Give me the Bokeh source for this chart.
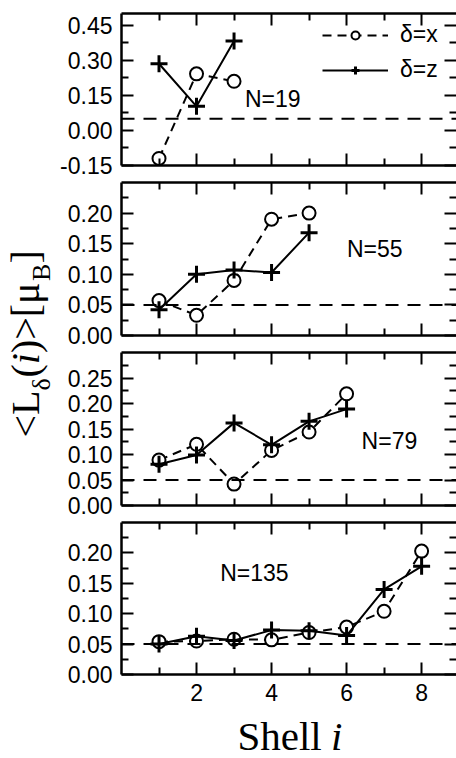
import math
from bokeh.plotting import figure
from bokeh.layouts import row, column
from bokeh.models import (Range1d, FixedTicker, LinearAxis, NumeralTickFormatter,
                          Span, Label, Legend, LegendItem, CustomLabelingPolicy)
from bokeh.embed import file_html
from bokeh.resources import INLINE

# ---------------- data ----------------
shells_19 = [1, 2, 3]
lx_19 = [-0.120, 0.242, 0.210]
lz_19 = [0.285, 0.103, 0.382]

shells_55 = [1, 2, 3, 4, 5]
lx_55 = [0.057, 0.033, 0.090, 0.190, 0.200]
lz_55 = [0.042, 0.100, 0.107, 0.103, 0.168]

shells_79 = [1, 2, 3, 4, 5, 6]
lx_79 = [0.089, 0.120, 0.042, 0.108, 0.144, 0.219]
lz_79 = [0.081, 0.099, 0.162, 0.119, 0.165, 0.189]

shells_135 = [1, 2, 3, 4, 5, 6, 7, 8]
lx_135 = [0.054, 0.055, 0.058, 0.057, 0.069, 0.078, 0.104, 0.203]
lz_135 = [0.050, 0.063, 0.056, 0.073, 0.072, 0.064, 0.140, 0.178]

cluster_labels = ["N=19", "N=55", "N=79", "N=135"]
ref_level = 0.05
x_tick_labels = [2, 4, 6, 8]
x_minor = [1, 3, 5, 7, 9]

# ---------------- style / layout ----------------
SANS = "Liberation Sans"
SERIF = "Liberation Serif"
TICK_FS = "23px"
LEFT_W = 57
PANEL_W = 456 - LEFT_W
FRAME_LEFT = 118                      # page x of the frames' left edge
BORDER_LEFT = FRAME_LEFT - LEFT_W
FRAME_W = 456 - FRAME_LEFT
X_END = 8.93
PX_PER_X = FRAME_W / X_END


def px_x(px):
    """page pixel x -> data x (all frames share the x scale)"""
    return (px - FRAME_LEFT) / PX_PER_X


def style_axis(ax, show_labels):
    ax.major_tick_in = 12
    ax.major_tick_out = 0
    ax.minor_tick_in = 7
    ax.minor_tick_out = 0
    ax.major_tick_line_width = 2
    ax.minor_tick_line_width = 2
    ax.major_tick_line_color = "black"
    ax.minor_tick_line_color = "black"
    ax.axis_line_width = 2.5
    ax.axis_line_color = "black"
    if show_labels:
        ax.major_label_text_font = SANS
        ax.major_label_text_font_size = TICK_FS
        ax.major_label_text_color = "black"
        ax.major_label_standoff = 9
    else:
        ax.major_label_text_font_size = "0px"
        ax.major_label_standoff = 0
        ax.major_label_policy = CustomLabelingPolicy(code="return [];")


def make_panel(height, top, bottom, y0, y1, ymaj, ymin, shells, lx, lz, label,
               label_xy, bottom_labels=False, legend=False):
    p = figure(width=PANEL_W, height=height, x_range=Range1d(0, X_END),
               y_range=Range1d(y0, y1), output_backend="svg", toolbar_location=None,
               x_axis_location=None, y_axis_location=None,
               min_border_left=BORDER_LEFT, min_border_right=0,
               min_border_top=top, min_border_bottom=bottom)
    p.grid.visible = False
    p.outline_line_color = None
    p.background_fill_color = "white"
    p.border_fill_color = "white"

    xt = FixedTicker(ticks=x_tick_labels, minor_ticks=x_minor)
    yt = FixedTicker(ticks=ymaj, minor_ticks=ymin)

    left = LinearAxis(ticker=yt, formatter=NumeralTickFormatter(format="0.00"))
    style_axis(left, True)
    p.add_layout(left, "left")
    right = LinearAxis(ticker=yt)
    style_axis(right, False)
    right.axis_line_color = None
    p.add_layout(right, "right")
    below = LinearAxis(ticker=xt)
    style_axis(below, bottom_labels)
    p.add_layout(below, "below")
    above = LinearAxis(ticker=xt)
    style_axis(above, False)
    p.add_layout(above, "above")

    p.add_layout(Span(location=ref_level, dimension="width", line_color="black",
                      line_width=2, line_dash="13 9"))

    rx_line = p.line(shells, lx, line_color="black", line_width=2, line_dash="9 6")
    rx_pts = p.scatter(shells, lx, marker="circle", size=13, line_color="black",
                       line_width=2, fill_color="white")
    rz_line = p.line(shells, lz, line_color="black", line_width=2)
    rz_pts = p.scatter(shells, lz, marker="cross", size=17, line_color="black",
                       line_width=3)

    p.add_layout(Label(x=label_xy[0], y=label_xy[1], text=label, text_font=SANS,
                       text_font_size=TICK_FS, text_align="left",
                       text_baseline="middle", text_color="black"))

    if legend:
        lg = Legend(items=[LegendItem(label="δ=x", renderers=[rx_line, rx_pts]),
                           LegendItem(label="δ=z", renderers=[rz_line, rz_pts])],
                    location=(201, 82), orientation="vertical")
        lg.glyph_width = 66
        lg.glyph_height = 20
        lg.label_height = 20
        lg.spacing = 8
        lg.padding = 0
        lg.margin = 0
        lg.label_standoff = 12
        lg.label_text_font = SANS
        lg.label_text_font_size = TICK_FS
        lg.label_text_color = "black"
        lg.label_text_baseline = "middle"
        lg.border_line_color = None
        lg.background_fill_alpha = 0
        p.add_layout(lg)
    return p


# panel canvases (page y): p1 0-179, p2 179-349, p3 349-519, p4 519-710, title 710-758
p1 = make_panel(179, 13, 14, -0.15, 0.50, [-0.15, 0.0, 0.15, 0.30, 0.45],
                [-0.075, 0.075, 0.225, 0.375], shells_19, lx_19, lz_19,
                cluster_labels[0], (3.29, 0.136), legend=True)
p2 = make_panel(170, 3, 14, 0.0, 0.25, [0.0, 0.05, 0.10, 0.15, 0.20],
                [0.025, 0.075, 0.125, 0.175, 0.225], shells_55, lx_55, lz_55,
                cluster_labels[1], (6.01, 0.142))
p3 = make_panel(170, 3, 14, 0.0, 0.30, [0.0, 0.05, 0.10, 0.15, 0.20, 0.25],
                [0.025, 0.075, 0.125, 0.175, 0.225, 0.275], shells_79, lx_79, lz_79,
                cluster_labels[2], (6.40, 0.126))
p4 = make_panel(191, 3, 36, 0.0, 0.25, [0.0, 0.05, 0.10, 0.15, 0.20],
                [0.025, 0.075, 0.125, 0.175, 0.225], shells_135, lx_135, lz_135,
                cluster_labels[3], (2.63, 0.167), bottom_labels=True)


def blank(width, height, xr, yr, **kw):
    f = figure(width=width, height=height, x_range=xr, y_range=yr,
               output_backend="svg", toolbar_location=None,
               x_axis_location=None, y_axis_location=None, min_border=0, **kw)
    f.grid.visible = False
    f.outline_line_color = None
    f.background_fill_color = "white"
    f.border_fill_color = "white"
    return f


# x-axis title "Shell i" (frame is aligned with the panels' frames in the column)
ptitle = blank(PANEL_W, 48, Range1d(0, X_END), Range1d(758, 710),
               min_border_left=BORDER_LEFT, min_border_right=0)
ptitle.add_layout(Label(x=px_x(235), y=735, text="Shell", text_font=SERIF,
                        text_font_size="41px", text_baseline="middle",
                        text_align="left", text_color="black"))
ptitle.add_layout(Label(x=px_x(329.5), y=735, text="i", text_font=SERIF,
                        text_font_size="41px", text_font_style="italic",
                        text_baseline="middle", text_align="left",
                        text_color="black"))

# rotated y-axis title <L_δ(i)>[μ_B], built from pieces (page pixel positions)
pleft = blank(LEFT_W, 758, Range1d(0, LEFT_W), Range1d(758, 0))
MAIN_X, SUB_X = 25, 41
ylabel_pieces = [
    # text, anchor x, page y where the piece starts, size, style
    ("<L", MAIN_X, 437.0, "40px", "normal"),
    ("δ", SUB_X, 390.0, "26px", "normal"),
    ("(", MAIN_X, 377.0, "40px", "normal"),
    ("i", MAIN_X, 363.7, "40px", "italic"),
    (")>[μ", MAIN_X, 352.6, "40px", "normal"),
    ("B", SUB_X, 280.4, "26px", "normal"),
    ("]", MAIN_X, 263.0, "40px", "normal"),
]
for txt, bx, sy, fs, st in ylabel_pieces:
    pleft.add_layout(Label(x=bx, y=sy, text=txt, text_font=SERIF, text_font_size=fs,
                           text_font_style=st, angle=math.pi / 2,
                           text_align="left", text_baseline="middle",
                           text_color="black"))

layout = row(pleft, column(p1, p2, p3, p4, ptitle))

with open("out.html", "w") as fh:
    fh.write(file_html(layout, INLINE))
